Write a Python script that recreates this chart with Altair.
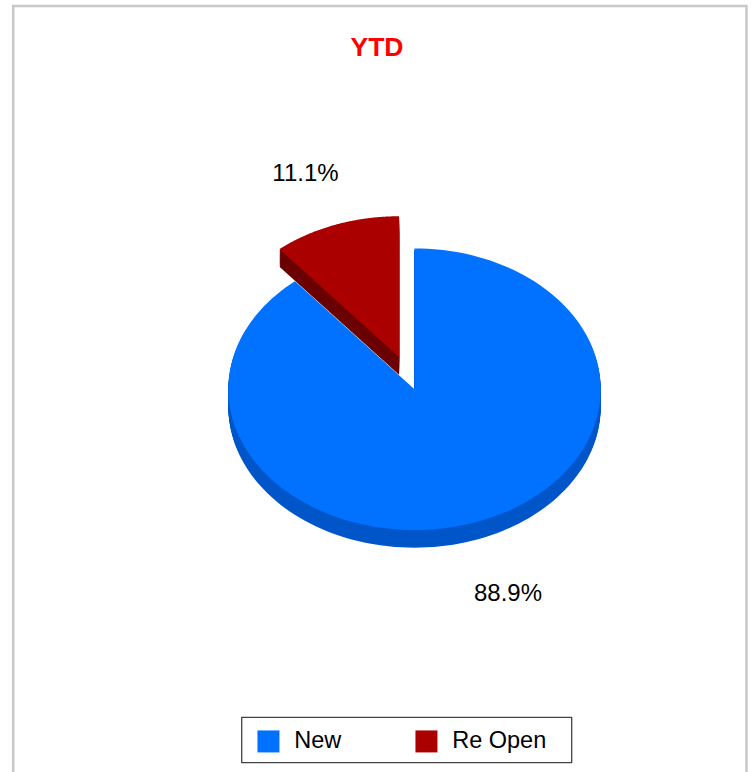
import altair as alt
import pandas as pd

# ---- data -------------------------------------------------------------
categories = ["New", "Re Open"]
shares = [88.9, 11.1]          # percent of YTD cases
chart_title = "YTD"

# ---- styling ----------------------------------------------------------
top_colors = ["#0072FF", "#AA0000"]
side_colors = ["#0055C8", "#6B0000"]
FONT = "Liberation Sans"

W, H = 751, 772
CX, CY = 414.5, 389.2          # pie centre (px)
RX, RY = 186.2, 140.8          # ellipse radii of the tilted pie
DEPTH = 17.7                   # thickness of the pie
N_ARC = 160                    # points per slice outline
N_DEPTH = 18                   # stacked copies used to build the side walls
PULLED = "Re Open"             # slice pulled out of the pie
PULL = 0.243                   # pull distance as a fraction of the radius
LAB_X, LAB_Y = 1.47, 1.40      # label distance (in radii)

source = pd.DataFrame({"category": categories, "share": shares,
                       "idx": list(range(len(categories)))})

xs = alt.Scale(domain=[0, W], nice=False, zero=False)
ys = alt.Scale(domain=[0, H], nice=False, zero=False, reverse=True)

# slice angles (clockwise from 12 o'clock) and their pulled-out centres
slices = (
    alt.Chart(source)
    .transform_joinaggregate(total="sum(share)")
    .transform_window(cum="sum(share)", sort=[alt.SortField("idx")], frame=[None, 0])
    .transform_calculate(a0="2 * PI * (datum.cum - datum.share) / datum.total")
    .transform_calculate(a1="2 * PI * datum.cum / datum.total")
    .transform_calculate(mid="(datum.a0 + datum.a1) / 2")
    .transform_calculate(pull=f"datum.category === '{PULLED}' ? {PULL} : 0")
    .transform_calculate(ox=f"{CX} + datum.pull * {RX} * sin(datum.mid)")
    .transform_calculate(oy=f"{CY} - datum.pull * {RY} * cos(datum.mid)")
)

# polygon outline of every slice: centre point followed by the arc
outline = (
    slices
    .transform_calculate(k=f"sequence(0, {N_ARC + 2})")
    .transform_flatten(["k"])
    .transform_calculate(
        ang=f"datum.a0 + (datum.a1 - datum.a0) * max(0, datum.k - 1) / {N_ARC}")
    .transform_calculate(
        px=f"datum.k == 0 ? datum.ox : datum.ox + {RX} * sin(datum.ang)")
    .transform_calculate(
        py=f"datum.k == 0 ? datum.oy : datum.oy - {RY} * cos(datum.ang)")
)

sides = (
    outline
    .transform_calculate(dz=f"sequence(1, {N_DEPTH + 1})")
    .transform_flatten(["dz"])
    .transform_calculate(pyd=f"datum.py + datum.dz * {DEPTH / N_DEPTH}")
    .mark_line(strokeOpacity=0, strokeWidth=0)
    .encode(
        x=alt.X("px:Q", scale=xs, axis=None),
        y=alt.Y("pyd:Q", scale=ys, axis=None),
        order=alt.Order("k:Q"),
        detail=alt.Detail("dz:Q"),
        fill=alt.Fill("category:N",
                      scale=alt.Scale(domain=categories, range=side_colors),
                      legend=None),
    )
)

tops = (
    outline
    .mark_line(strokeOpacity=0, strokeWidth=0)
    .encode(
        x=alt.X("px:Q", scale=xs, axis=None),
        y=alt.Y("py:Q", scale=ys, axis=None),
        order=alt.Order("k:Q"),
        fill=alt.Fill(
            "category:N",
            scale=alt.Scale(domain=categories, range=top_colors),
            legend=alt.Legend(
                orient="none", legendX=256.7, legendY=729.3,
                direction="horizontal", title=None,
                symbolType="square", symbolSize=484, symbolStrokeWidth=0,
                symbolOpacity=1,
                labelFont=FONT, labelFontSize=23.5, labelColor="black",
                labelOffset=14, columnPadding=73, padding=0,
            ),
        ),
    )
)

labels = (
    slices
    .transform_calculate(lx=f"datum.ox + {LAB_X} * {RX} * sin(datum.mid)")
    .transform_calculate(
        ly=f"datum.oy - {LAB_Y} * {RY} * cos(datum.mid) + (cos(datum.mid) < 0 ? {DEPTH} : 0)")
    .transform_calculate(txt="format(datum.share, '.1f') + '%'")
    .mark_text(font=FONT, fontSize=24, color="black", align="center",
               baseline="middle", dy=2)
    .encode(
        x=alt.X("lx:Q", scale=xs, axis=None),
        y=alt.Y("ly:Q", scale=ys, axis=None),
        text="txt:N",
    )
)

one = alt.Chart(pd.DataFrame({"title": [chart_title]}))

frame = one.mark_rect(fill="white", stroke="#C8C8C8", strokeWidth=2.5).encode(
    x=alt.value(13.2), x2=alt.value(746.5), y=alt.value(6), y2=alt.value(H + 20)
)
legend_box = one.mark_rect(fill="white", stroke="#444444", strokeWidth=1.3).encode(
    x=alt.value(241.7), x2=alt.value(571.7), y=alt.value(717.3), y2=alt.value(762.7)
)
title = one.mark_text(font=FONT, fontSize=26.5, fontWeight="bold", color="#FF0000",
                      align="center", baseline="middle").encode(
    x=alt.value(377), y=alt.value(48), text="title:N"
)

chart = (
    alt.layer(frame, legend_box, sides, tops, labels, title)
    .resolve_scale(fill="independent")
    .properties(width=W, height=H, padding=0, autosize=alt.AutoSizeParams(type="none"),
                background="white")
    .configure_view(stroke=None)
)

chart.save("out.html", embed_options={"renderer": "svg", "actions": False})
